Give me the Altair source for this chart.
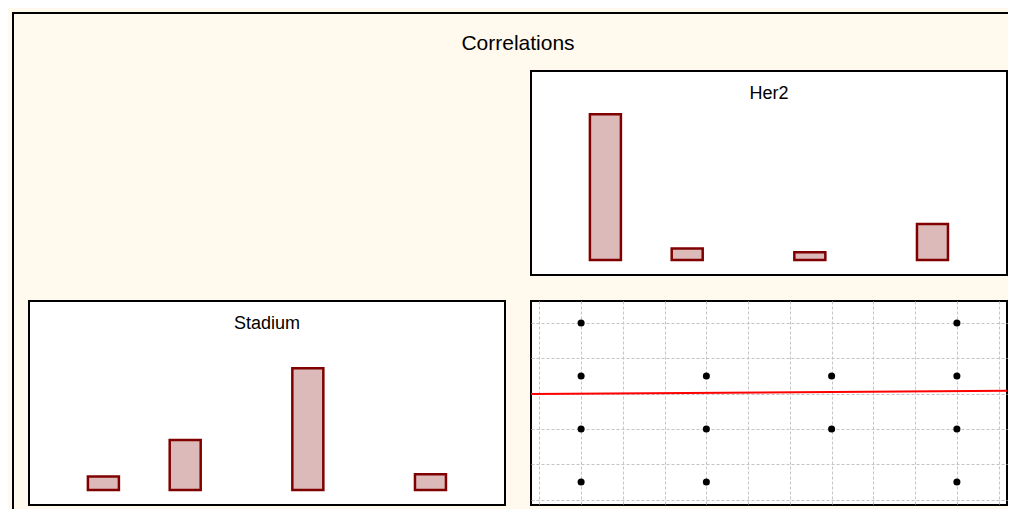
import altair as alt
import pandas as pd

FONT = "Liberation Sans"
BG = "#FFF9EE"

# ---- data ----
bin_centers = [1.333, 2.0, 3.0, 4.0]          # histogram bin centres (both variables)
her2_counts = [37.7, 3.0, 2.0, 9.3]           # Her2 histogram heights
stadium_counts = [3.5, 12.9, 31.5, 4.1]       # Stadium histogram heights

scatter_x = [1, 1, 1, 1, 2, 2, 2, 3, 3, 4, 4, 4, 4]
scatter_y = [4, 3, 2, 1, 3, 2, 1, 3, 2, 4, 3, 2, 1]

fit_x = [0.6, 4.4]                            # regression line ends
fit_y = [2.66, 2.72]

grid_values = [0.667, 1.0, 1.333, 1.667, 2.0, 2.333, 2.667, 3.0, 3.333, 3.667, 4.0, 4.333]

panel_titles = ["Her2", "Stadium"]
main_title = "Correlations"

PW, PH = 476, 204
FRAME = alt.ViewBackground(fill="white", stroke="black", strokeWidth=2)


def blank(w, h, fill="transparent"):
    return alt.Chart(pd.DataFrame({"k": [0]})).mark_rect(opacity=0).encode(
        x=alt.value(0), x2=alt.value(0), y=alt.value(0), y2=alt.value(0)
    ).properties(width=w, height=h,
                 view=alt.ViewBackground(fill=fill, stroke="transparent", strokeWidth=0))


def hist_panel(name, counts):
    df = pd.DataFrame({"bin": bin_centers, "count": counts})
    bars = alt.Chart(df).mark_bar(
        size=31, color="#DDBABA", stroke="#800000", strokeWidth=2.5
    ).encode(
        x=alt.X("bin:Q", scale=alt.Scale(domain=[0.767, 4.567], nice=False, zero=False), axis=None),
        y=alt.Y("count:Q", scale=alt.Scale(domain=[-3.88, 48.88], nice=False), axis=None),
        y2=alt.datum(0),
    )
    label = alt.Chart(pd.DataFrame({"t": [name]})).mark_text(
        font=FONT, fontSize=18, baseline="alphabetic", align="center", color="black"
    ).encode(x=alt.value(PW / 2), y=alt.value(28), text="t:N")
    return alt.layer(bars, label).properties(width=PW, height=PH, view=FRAME)


her2 = hist_panel(panel_titles[0], her2_counts)
stadium = hist_panel(panel_titles[1], stadium_counts)

xs = alt.Scale(domain=[0.6, 4.4], nice=False, zero=False)
ys = alt.Scale(domain=[0.566, 4.415], nice=False, zero=False)
grid_axis = alt.Axis(values=grid_values, grid=True, labels=False, ticks=False, domain=False,
                     gridColor="#C4C4C4", gridDash=[3, 2], gridWidth=1)

scat_df = pd.DataFrame({"x": scatter_x, "y": scatter_y})
fit_df = pd.DataFrame({"x": fit_x, "y": fit_y})

fit = alt.Chart(fit_df).mark_line(color="#FF0000", strokeWidth=2, clip=True).encode(
    x=alt.X("x:Q", scale=xs, axis=grid_axis, title=None),
    y=alt.Y("y:Q", scale=ys, axis=grid_axis, title=None),
)
points = alt.Chart(scat_df).mark_circle(size=50, color="black", opacity=1).encode(
    x=alt.X("x:Q", scale=xs, title=None),
    y=alt.Y("y:Q", scale=ys, title=None),
)
scatter = alt.layer(fit, points).properties(width=PW, height=PH, view=FRAME)

title_chart = blank(978, 19).properties(
    title=alt.TitleParams(main_title, orient="bottom", anchor="middle", offset=0,
                          baseline="top", font=FONT, fontSize=21, fontWeight="normal",
                          color="black")
)

grid = alt.vconcat(
    alt.hconcat(blank(PW, PH), her2, spacing=25),
    alt.hconcat(stadium, scatter, spacing=24),
    spacing=24,
)
main = alt.vconcat(title_chart, grid, spacing=16)
body = alt.hconcat(blank(2, 495, "black"), main, spacing=14)
chart = alt.vconcat(blank(996, 2, "black"), body, spacing=0).properties(
    padding={"left": 4, "top": 4, "right": 0, "bottom": 0},
    background=BG,
).configure(font=FONT)

chart.save("out.html", embed_options={"renderer": "svg", "actions": False})
